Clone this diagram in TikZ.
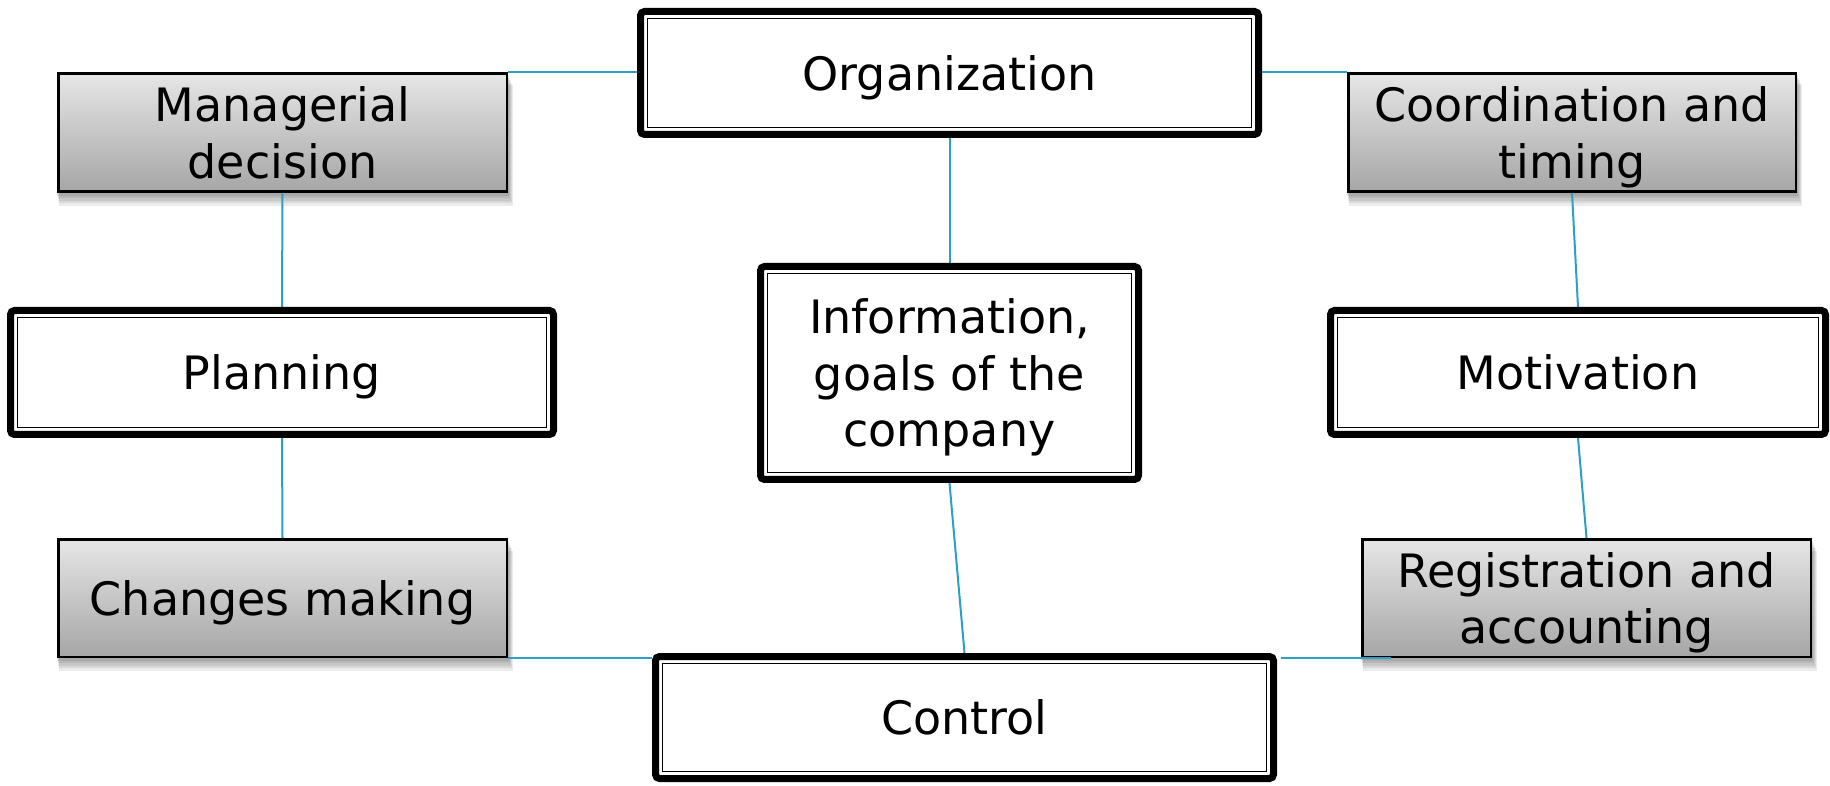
\documentclass[tikz,border=0pt]{standalone}
\usepackage{fontspec}
\setmainfont{DejaVu Sans}
\usetikzlibrary{calc}
\pgfdeclarelayer{bgfill}
\pgfdeclarelayer{links}
\pgfsetlayers{bgfill,links,main}
\definecolor{linkc}{RGB}{43,159,196}
\definecolor{gtop}{RGB}{230,230,230}
\definecolor{gbot}{RGB}{166,166,166}
\newcommand{\boxtxt}[1]{\raisebox{-6pt}[\height][\depth]{\begin{tabular}{@{}c@{}}#1\end{tabular}}}
\tikzset{
  txt/.style={font=\fontsize{46}{56.5}\selectfont, inner sep=0pt, rectangle},
  dbox/.style={txt, draw=black, line width=7pt, rounded corners=4pt, fill=white},
  gbox/.style={txt, draw=black, line width=2.5pt, top color=gtop, bottom color=gbot},
  innerline/.style={draw=black, line width=1.6pt},
  shade1/.style={fill=black, opacity=0.08},
  link/.style={draw=linkc, line width=2pt},
}
\begin{document}
\begin{tikzpicture}[x=1pt,y=1pt]
\begin{pgfonlayer}{bgfill}
\fill[white] (0,0) rectangle (1830,785);
\end{pgfonlayer}
\useasboundingbox (0,0) rectangle (1830,785);

% double-framed boxes
\node[dbox, minimum width=618pt, minimum height=123pt] (org) at (949.5,712) {\boxtxt{Organization}};
\node[dbox, minimum width=618pt, minimum height=122pt] (ctrl) at (964.5,67.5) {\boxtxt{Control}};
\node[dbox, minimum width=378pt, minimum height=213pt] (info) at (949.5,412) {\boxtxt{Information,\\goals of the\\company}};
\node[dbox, minimum width=543pt, minimum height=124pt] (plan) at (282,412.5) {\boxtxt{Planning}};
\node[dbox, minimum width=495pt, minimum height=124pt] (motiv) at (1578,412.5) {\boxtxt{Motivation}};

\draw[innerline] ($(org.north west)+(10.5,-10.5)$) rectangle ($(org.south east)+(-10.5,10.5)$);
\draw[innerline] ($(ctrl.north west)+(10.5,-10.5)$) rectangle ($(ctrl.south east)+(-10.5,10.5)$);
\draw[innerline] ($(info.north west)+(10.5,-10.5)$) rectangle ($(info.south east)+(-10.5,10.5)$);
\draw[innerline] ($(plan.north west)+(10.5,-10.5)$) rectangle ($(plan.south east)+(-10.5,10.5)$);
\draw[innerline] ($(motiv.north west)+(10.5,-10.5)$) rectangle ($(motiv.south east)+(-10.5,10.5)$);

% gradient boxes
\node[gbox, minimum width=448.5pt, minimum height=118pt] (mgr) at (282.5,652.25) {\boxtxt{Managerial\\decision}};
\node[gbox, minimum width=447.5pt, minimum height=118pt] (coord) at (1572,652.25) {\boxtxt{Coordination and\\timing}};
\node[gbox, minimum width=448.5pt, minimum height=117.5pt] (chg) at (282.5,187) {\boxtxt{Changes making}};
\node[gbox, minimum width=448.5pt, minimum height=117.5pt] (reg) at (1586.5,187) {\boxtxt{Registration and\\accounting}};

% soft shadows under the gradient boxes
\begin{pgfonlayer}{bgfill}
\foreach \nm in {mgr,coord,chg,reg}{
  \foreach \k in {1,2,3,4,5}{
    \fill[shade1] ($(\nm.south west)+(0.4*\k,-2.6*\k)$) rectangle ($(\nm.north east)+(0.9*\k,-2.6*\k)$);
  }
}
\end{pgfonlayer}

\coordinate (regfoot) at ($(reg.south west)+(30,0)$);

% connectors
\begin{pgfonlayer}{links}
\draw[link] (mgr.north east) -- (org.west |- mgr.north east);
\draw[link] (org.east |- coord.north west) -- (coord.north west);
\draw[link] (mgr.south) -- (plan.north);
\draw[link] (plan.south) -- (chg.north);
\draw[link] (org.south) -- (info.north);
\draw[link] (info.south) -- (ctrl.north);
\draw[link] (chg.south east) -- (ctrl.west |- chg.south east);
\draw[link] (coord.south) -- (motiv.north);
\draw[link] (motiv.south) -- (reg.north);
\end{pgfonlayer}
\draw[link] ($(ctrl.east |- regfoot)+(3.5,0)$) -- (regfoot);
\end{tikzpicture}
\end{document}
